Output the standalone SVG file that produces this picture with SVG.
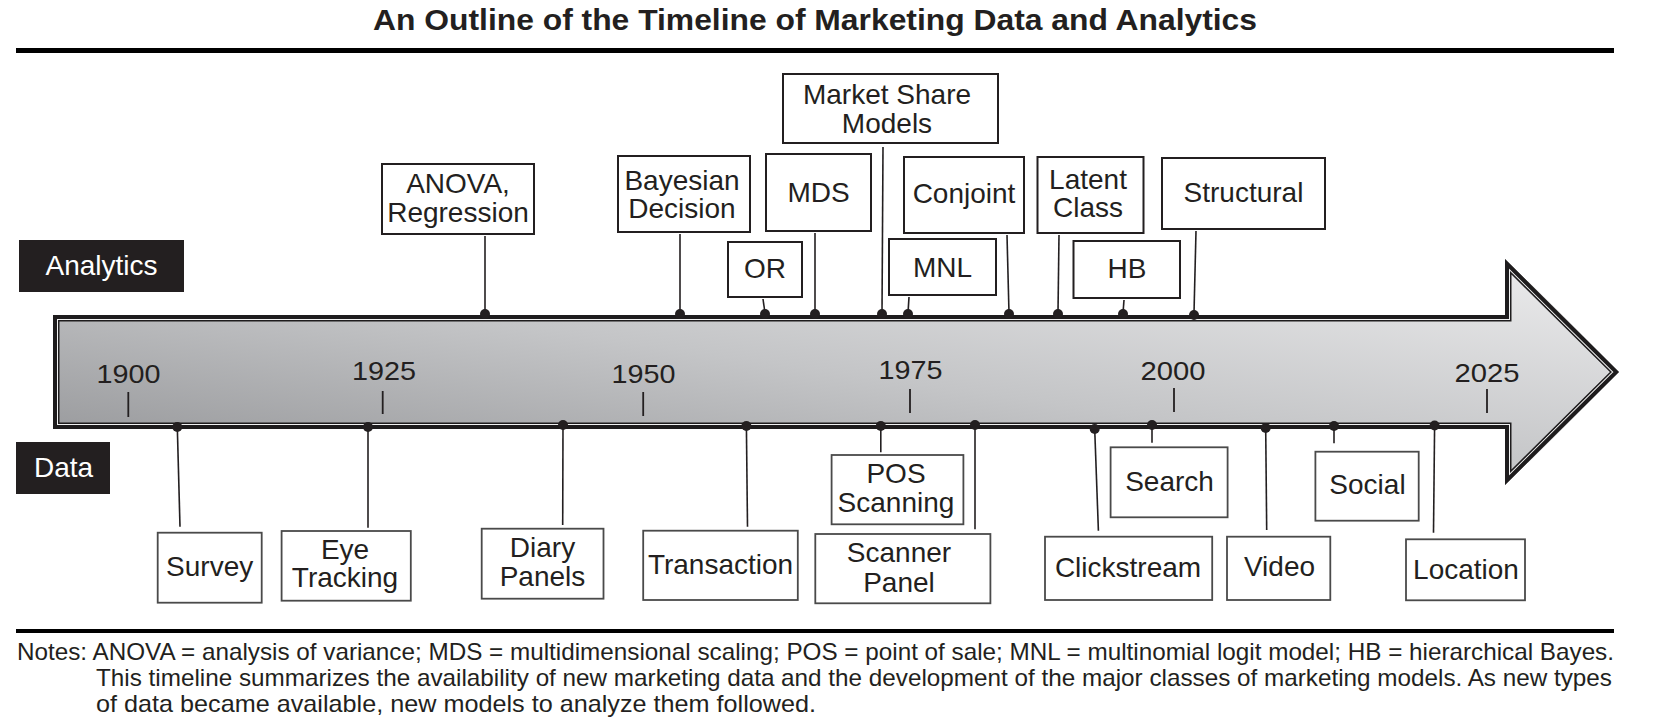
<svg xmlns="http://www.w3.org/2000/svg" width="1660" height="721" viewBox="0 0 1660 721">
<style>
text{font-family:"Liberation Sans",Arial,Helvetica,sans-serif;fill:#231f20}
.t{font-size:28px;text-anchor:middle}
.yr{font-size:26px;text-anchor:middle}
.ab{fill:#fff;stroke:#231f20;stroke-width:2}
.db{fill:#fff;stroke:#4a4a4a;stroke-width:1.8}
.lab{fill:#231f20}
.labt{font-size:28px;text-anchor:middle;fill:#fff}
.stem{stroke:#231f20;stroke-width:1.6;fill:none}
.tick{stroke:#231f20;stroke-width:1.8}
.dot{fill:#231f20}
.note{font-size:24px}
</style>
<defs>
<linearGradient id="g" x1="0" y1="1" x2="1" y2="0">
<stop offset="0" stop-color="#8e8f92"/>
<stop offset="0.5" stop-color="#c4c5c7"/>
<stop offset="1" stop-color="#eeeeef"/>
</linearGradient>
<clipPath id="cp"><path d="M53,315 L1505,315 L1505,259 L1619,372 L1505,485 L1505,429 L53,429 Z"/></clipPath>
</defs>
<rect width="1660" height="721" fill="#fff"/>
<g id="title">
<text x="373" y="30" font-size="29" font-weight="bold" textLength="884" lengthAdjust="spacingAndGlyphs">An Outline of the Timeline of Marketing Data and Analytics</text>
<rect x="16" y="48" width="1598" height="5" fill="#000"/>
</g>
<g id="timeline-arrow">
<path d="M53,315 L1505,315 L1505,259 L1619,372 L1505,485 L1505,429 L53,429 Z" fill="url(#g)"/>
<g clip-path="url(#cp)" fill="none" stroke-linejoin="miter">
<path d="M53,315 L1505,315 L1505,259 L1619,372 L1505,485 L1505,429 L53,429 Z" stroke="#1e1c1d" stroke-width="13"/>
<path d="M53,315 L1505,315 L1505,259 L1619,372 L1505,485 L1505,429 L53,429 Z" stroke="#f2f2f2" stroke-width="10"/>
<path d="M53,315 L1505,315 L1505,259 L1619,372 L1505,485 L1505,429 L53,429 Z" stroke="#1e1c1d" stroke-width="8"/>
</g>
<g id="years">
<line class="tick" x1="128.3" y1="392" x2="128.3" y2="417"/><text class="yr" x="128.5" y="383" textLength="64" lengthAdjust="spacingAndGlyphs">1900</text>
<line class="tick" x1="382.7" y1="391" x2="382.7" y2="414"/><text class="yr" x="384" y="380" textLength="64" lengthAdjust="spacingAndGlyphs">1925</text>
<line class="tick" x1="643.2" y1="392" x2="643.2" y2="416"/><text class="yr" x="643.5" y="383" textLength="64" lengthAdjust="spacingAndGlyphs">1950</text>
<line class="tick" x1="910" y1="389" x2="910" y2="413"/><text class="yr" x="910.5" y="378.5" textLength="64" lengthAdjust="spacingAndGlyphs">1975</text>
<line class="tick" x1="1174" y1="388" x2="1174" y2="412"/><text class="yr" x="1173" y="379.5" textLength="65" lengthAdjust="spacingAndGlyphs">2000</text>
<line class="tick" x1="1487" y1="389" x2="1487" y2="413"/><text class="yr" x="1487" y="382" textLength="65" lengthAdjust="spacingAndGlyphs">2025</text>
</g>
</g>
<g id="label-analytics"><rect class="lab" x="19" y="240" width="165" height="52"/><text class="labt" x="101.5" y="275">Analytics</text></g>
<g id="label-data"><rect class="lab" x="16" y="442" width="94" height="52"/><text class="labt" x="63.5" y="477">Data</text></g>
<g id="connectors">
<line class="stem" x1="485" y1="236" x2="485" y2="313"/><circle class="dot" cx="485" cy="314" r="5"/>
<line class="stem" x1="680" y1="234" x2="680" y2="313"/><circle class="dot" cx="680" cy="314" r="5"/>
<line class="stem" x1="763" y1="299" x2="765" y2="313"/><circle class="dot" cx="765" cy="314" r="5"/>
<line class="stem" x1="815" y1="233" x2="815" y2="313"/><circle class="dot" cx="815" cy="314" r="5"/>
<line class="stem" x1="883" y1="147" x2="882" y2="313"/><circle class="dot" cx="882" cy="314" r="5"/>
<line class="stem" x1="909" y1="297" x2="908" y2="313"/><circle class="dot" cx="908" cy="314" r="5"/>
<line class="stem" x1="1007" y1="235" x2="1009" y2="313"/><circle class="dot" cx="1009" cy="314" r="5"/>
<line class="stem" x1="1059" y1="235" x2="1058" y2="313"/><circle class="dot" cx="1058" cy="314" r="5"/>
<line class="stem" x1="1124" y1="300" x2="1123" y2="313"/><circle class="dot" cx="1123" cy="314" r="5"/>
<line class="stem" x1="1196" y1="231" x2="1194" y2="313"/><circle class="dot" cx="1194" cy="315" r="5"/>
<line class="stem" x1="177.3" y1="427" x2="180" y2="526.7"/><circle class="dot" cx="177.3" cy="427" r="5"/>
<line class="stem" x1="368" y1="427" x2="368" y2="527.7"/><circle class="dot" cx="368" cy="427" r="5"/>
<line class="stem" x1="563" y1="425" x2="562.7" y2="525"/><circle class="dot" cx="563" cy="425" r="5"/>
<line class="stem" x1="746.4" y1="426" x2="747.5" y2="526.7"/><circle class="dot" cx="746.4" cy="426" r="5"/>
<line class="stem" x1="880.8" y1="426" x2="880.8" y2="452.3"/><circle class="dot" cx="880.8" cy="426" r="5"/>
<line class="stem" x1="975" y1="425" x2="975" y2="529.3"/><circle class="dot" cx="975" cy="425" r="5"/>
<line class="stem" x1="1094.7" y1="429" x2="1098.4" y2="530.7"/><circle class="dot" cx="1094.7" cy="429" r="5"/>
<line class="stem" x1="1152" y1="425" x2="1152" y2="442.7"/><circle class="dot" cx="1152" cy="425" r="5"/>
<line class="stem" x1="1265.7" y1="428" x2="1266.7" y2="530"/><circle class="dot" cx="1265.7" cy="428" r="5"/>
<line class="stem" x1="1334" y1="426" x2="1334" y2="443.3"/><circle class="dot" cx="1334" cy="426" r="5"/>
<line class="stem" x1="1434.6" y1="425.5" x2="1433.5" y2="532.7"/><circle class="dot" cx="1434.6" cy="425.5" r="5"/>
</g>
<g id="anova"><rect class="ab" x="382" y="164" width="152" height="70"/><text class="t" x="458" y="193">ANOVA,</text><text class="t" x="458" y="221.5">Regression</text></g>
<g id="bayesian"><rect class="ab" x="618" y="156" width="132" height="76"/><text class="t" x="682" y="189.5">Bayesian</text><text class="t" x="682" y="217.5">Decision</text></g>
<g id="or"><rect class="ab" x="728" y="242" width="74" height="55"/><text class="t" x="765" y="278">OR</text></g>
<g id="mds"><rect class="ab" x="766" y="154" width="105" height="77"/><text class="t" x="818.5" y="201.5">MDS</text></g>
<g id="market-share"><rect class="ab" x="783" y="74" width="215" height="69"/><text class="t" x="887" y="103.5">Market Share</text><text class="t" x="887" y="132.5">Models</text></g>
<g id="conjoint"><rect class="ab" x="904" y="157" width="120" height="76"/><text class="t" x="964" y="203">Conjoint</text></g>
<g id="mnl"><rect class="ab" x="889" y="239" width="107" height="56"/><text class="t" x="942.5" y="276.5">MNL</text></g>
<g id="latent-class"><rect class="ab" x="1037.5" y="157" width="106" height="76"/><text class="t" x="1088" y="188.5">Latent</text><text class="t" x="1088" y="217">Class</text></g>
<g id="hb"><rect class="ab" x="1073.5" y="241" width="106.5" height="57"/><text class="t" x="1127" y="278">HB</text></g>
<g id="structural"><rect class="ab" x="1162" y="158" width="163" height="71"/><text class="t" x="1243.5" y="202">Structural</text></g>
<g id="survey"><rect class="db" x="157.7" y="532.7" width="104" height="70"/><text class="t" x="209.7" y="576">Survey</text></g>
<g id="eye-tracking"><rect class="db" x="281.6" y="531" width="129.2" height="69.7"/><text class="t" x="345" y="558.5">Eye</text><text class="t" x="345" y="587">Tracking</text></g>
<g id="diary-panels"><rect class="db" x="481.7" y="528.7" width="121.8" height="70"/><text class="t" x="542.5" y="556.5">Diary</text><text class="t" x="542.5" y="586">Panels</text></g>
<g id="transaction"><rect class="db" x="643.2" y="530.7" width="154.6" height="69.3"/><text class="t" x="720.5" y="574">Transaction</text></g>
<g id="pos-scanning"><rect class="db" x="831.6" y="455" width="131.8" height="69.3"/><text class="t" x="896" y="482.5">POS</text><text class="t" x="896" y="511.5">Scanning</text></g>
<g id="scanner-panel"><rect class="db" x="815.3" y="534" width="175.1" height="69.3"/><text class="t" x="899" y="561.5">Scanner</text><text class="t" x="899" y="591.5">Panel</text></g>
<g id="clickstream"><rect class="db" x="1045" y="536.7" width="167.2" height="63.3"/><text class="t" x="1128" y="576.7">Clickstream</text></g>
<g id="search"><rect class="db" x="1110.6" y="447.3" width="117" height="70"/><text class="t" x="1169.5" y="491">Search</text></g>
<g id="video"><rect class="db" x="1227" y="536.7" width="103.3" height="63.3"/><text class="t" x="1279.5" y="576">Video</text></g>
<g id="social"><rect class="db" x="1315.4" y="451.7" width="103.3" height="69"/><text class="t" x="1367.5" y="494">Social</text></g>
<g id="location"><rect class="db" x="1406" y="539.3" width="119" height="61"/><text class="t" x="1466" y="578.5">Location</text></g>
<g id="notes">
<rect x="16" y="629" width="1598" height="4" fill="#000"/>
<text class="note" x="17" y="660" textLength="1597" lengthAdjust="spacingAndGlyphs">Notes: ANOVA = analysis of variance; MDS = multidimensional scaling; POS = point of sale; MNL = multinomial logit model; HB = hierarchical Bayes.</text>
<text class="note" x="96" y="686" textLength="1516" lengthAdjust="spacingAndGlyphs">This timeline summarizes the availability of new marketing data and the development of the major classes of marketing models. As new types</text>
<text class="note" x="96" y="712" textLength="720" lengthAdjust="spacingAndGlyphs">of data became available, new models to analyze them followed.</text>
</g>
</svg>
